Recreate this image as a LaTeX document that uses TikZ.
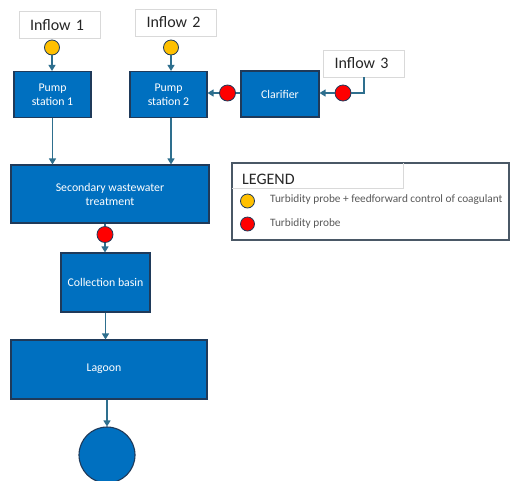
\documentclass[tikz,border=0pt]{standalone}
\usepackage{fontspec}
\setmainfont{Carlito}
\usetikzlibrary{arrows.meta}
\definecolor{boxblue}{HTML}{0070C0}
\definecolor{boxedge}{HTML}{1F3A5A}
\definecolor{flowc}{HTML}{2E6F8E}
\definecolor{probeY}{HTML}{FFC000}
\definecolor{probeR}{HTML}{FF0000}
\definecolor{lgray}{HTML}{D9D9D9}
\definecolor{legedge}{HTML}{4A5866}
\tikzset{
  proc/.style={draw=boxedge, line width=1.1pt, fill=boxblue, text=white, align=center,
    font=\fontsize{11.8}{14}\selectfont, inner sep=0pt},
  inflowbox/.style={draw=lgray, line width=0.6pt, fill=white, text=black!85, align=left,
    font=\fontsize{16}{17}\selectfont, minimum height=27pt, inner xsep=11pt, inner ysep=0pt, text width=59pt},
  yprobe/.style={circle, draw=boxedge, line width=0.8pt, fill=probeY, minimum size=15pt, inner sep=0pt},
  rprobe/.style={circle, draw=boxedge, line width=0.8pt, fill=probeR, minimum size=16pt, inner sep=0pt},
  flow/.style={draw=flowc, line width=1.2pt, -{Triangle[width=7pt,length=6pt]}},
  flowline/.style={draw=flowc, line width=1.2pt},
  legtext/.style={text=black!65, font=\fontsize{11.3}{12}\selectfont, anchor=west, inner sep=0pt}
}
\begin{document}
\begin{tikzpicture}[x=1pt,y=-1pt]
\clip (0,0) rectangle (510,480);
\fill[white] (0,0) rectangle (510,480);
% inflow boxes
\node[inflowbox] (in1) at (59.5,25) {Inflow 1};
\node[inflowbox] (in2) at (176,22.5) {Inflow 2};
\node[inflowbox] (in3) at (364,63.5) {Inflow 3};
% process boxes
\node[proc, minimum width=77pt, minimum height=46pt] (p1) at (52.5,94.5) {Pump\\station 1};
\node[proc, minimum width=77pt, minimum height=46pt] (p2) at (168.5,94.5) {Pump\\station 2};
\node[proc, minimum width=78pt, minimum height=46pt] (cl) at (280,94) {Clarifier};
\node[proc, minimum width=198pt, minimum height=58pt] (sec) at (110,194) {Secondary wastewater\\treatment};
\node[proc, minimum width=89pt, minimum height=59pt] (cb) at (105.5,282.5) {Collection basin};
\node[proc, minimum width=196pt, minimum height=59pt] (lag) at (109,369.5) {\raisebox{3pt}{\hspace*{-10pt}Lagoon}};
\node[circle, draw=boxedge, line width=1.1pt, fill=boxblue, minimum size=56pt, inner sep=0pt] (end) at (107,455) {};
% probes
\node[yprobe] (y1) at (52,47.5) {};
\node[yprobe] (y2) at (171,47.5) {};
\node[rprobe] (r1) at (227.5,93) {};
\node[rprobe] (r2) at (343,93) {};
\node[rprobe] (r3) at (105,234.5) {};
% connectors
\draw[flow] (y1) -- (y1 |- p1.north);
\draw[flow] (y2) -- (y2 |- p2.north);
\draw[flowline] (in3.south) |- (r2);
\draw[flow] (r2) -- (cl.east |- r2);
\draw[flowline] (cl.west |- r1) -- (r1);
\draw[flow] (r1) -- (p2.east |- r1);
\draw[flow] (p1.south) -- (p1.south |- sec.north);
\coordinate (p2out) at ([xshift=2.5pt]p2.south);
\draw[flow] (p2out) -- (p2out |- sec.north);
\draw[flowline] (sec.south -| r3) -- (r3);
\draw[flow] (r3) -- (r3 |- cb.north);
\draw[flow] (cb.south) -- (cb.south |- lag.north);
\coordinate (lagout) at (lag.south -| end);
\draw[flow] (lagout) -- (end.north);
% legend
\node[draw=legedge, line width=1.3pt, minimum width=277pt, minimum height=77pt, inner sep=0pt] (leg) at (370.5,201.5) {};
\coordinate (hdl) at (232,188);
\coordinate (hdr) at (403.5,188);
\coordinate (hdt) at (403.5,163);
\draw[lgray, line width=0.6pt] (hdl) -- (hdr) -- (hdt);
\node[anchor=west, inner sep=0pt, text=black!85, font=\fontsize{16}{17}\selectfont] (legtitle) at (242,179) {LEGEND};
\node[yprobe, minimum size=14pt] (ly) at (247.5,201) {};
\node[rprobe, minimum size=14pt] (lr) at (247.5,224) {};
\node[legtext] (lyt) at (270,200) {Turbidity probe + feedforward control of coagulant};
\node[legtext] (lrt) at (270,223) {Turbidity probe};
\end{tikzpicture}
\end{document}
